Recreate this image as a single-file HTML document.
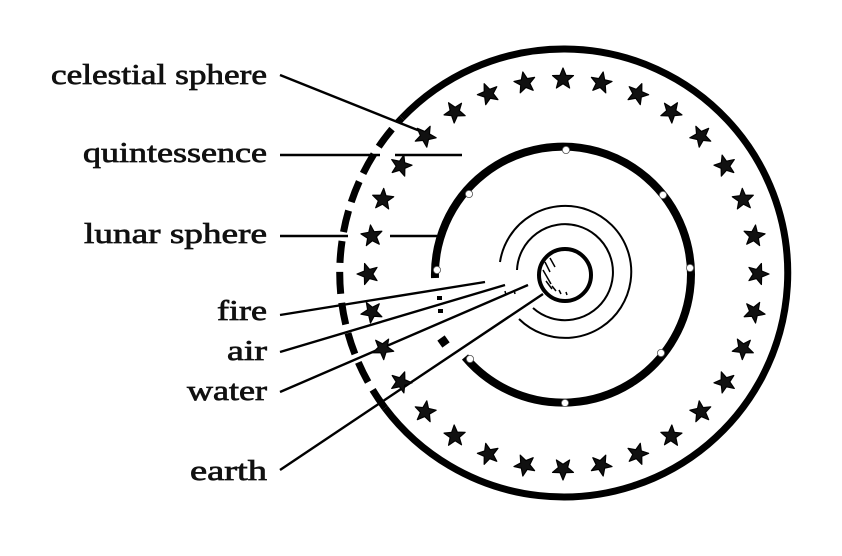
<!DOCTYPE html>
<html><head><meta charset="utf-8"><style>html,body{margin:0;padding:0;background:#fff}svg{display:block}</style></head>
<body>
<svg width="842" height="556" viewBox="0 0 842 556" xmlns="http://www.w3.org/2000/svg">
<defs>
<path id="s" d="M0,-11 L3,-3.6 L10.5,-3.4 L4.6,1.5 L6.6,9 L0,4.8 L-6.6,9 L-4.6,1.5 L-10.5,-3.4 L-3,-3.6 Z" fill="#111" stroke="#000" stroke-width="1.2" stroke-linejoin="round"/>
</defs>
<g font-family="'Liberation Serif', serif" font-size="28" fill="#111" stroke="#111" stroke-width="0.7" text-anchor="end">
<text x="267" y="84" textLength="216" lengthAdjust="spacingAndGlyphs">celestial sphere</text>
<text x="267" y="162" textLength="184" lengthAdjust="spacingAndGlyphs">quintessence</text>
<text x="267" y="243" textLength="183" lengthAdjust="spacingAndGlyphs">lunar sphere</text>
<text x="267" y="320" textLength="50" lengthAdjust="spacingAndGlyphs">fire</text>
<text x="267" y="360" textLength="40" lengthAdjust="spacingAndGlyphs">air</text>
<text x="267" y="400" textLength="80" lengthAdjust="spacingAndGlyphs">water</text>
<text x="267" y="480" textLength="77" lengthAdjust="spacingAndGlyphs">earth</text>
</g>
<g fill="none" stroke="#000">
<path d="M402,118 A224,224 0 1 1 385,408" stroke-width="7"/>
<path d="M385,408 A224,224 0 0 1 402,118" stroke-width="7" stroke-dasharray="22,9"/>
<path d="M435,278 A128,128 0 1 1 465,357" stroke-width="8"/>
<path d="M441,338 L446,345" stroke-width="9"/>
<path d="M437,298 L442,298 M438,311 L443,311" stroke-width="4"/>
<path d="M519,319 A66,66 0 1 0 500,262" stroke-width="2"/>
<path d="M533,308 A48,48 0 1 0 517,270" stroke-width="2"/>
<circle cx="565" cy="275" r="26" stroke-width="4" fill="#fff"/>
<path d="M545,262 l5,10 M543,270 l8,14 M546,281 l6,8 M552,286 l4,5 M559,290 l2,4 M566,292 l1,3 M550,258 l5,9" stroke-width="1.5"/>
<g stroke-width="2.4">
<path d="M280,75 L425,133"/>
<path d="M280,155 L380,155 M395,155 L462,155"/>
<path d="M280,236 L348,236 M390,236 L437,236"/>
<path d="M280,315 L485,282"/>
<path d="M280,352 L505,285"/>
<path d="M280,392 L528,285"/>
<path d="M280,470 L543,294"/>
<path d="M505,291 l1,4 M514,290 l1,4" stroke-width="1.5"/>
</g>
</g>
<g fill="#fff" stroke="#555" stroke-width="0.8">
<circle cx="566" cy="150" r="3.6"/><circle cx="663" cy="195" r="3.6"/><circle cx="690" cy="268" r="3.6"/><circle cx="661" cy="353" r="3.6"/><circle cx="565" cy="403" r="3.6"/><circle cx="470" cy="359" r="3.6"/><circle cx="437" cy="270" r="3.6"/><circle cx="469" cy="194" r="3.6"/>
</g>
<g>
<use href="#s" x="563" y="79"/>
<g transform="rotate(11.25 563 274)"><use href="#s" x="563" y="79"/></g>
<g transform="rotate(22.5 563 274)"><use href="#s" x="563" y="79"/></g>
<g transform="rotate(33.75 563 274)"><use href="#s" x="563" y="79"/></g>
<g transform="rotate(45 563 274)"><use href="#s" x="563" y="79"/></g>
<g transform="rotate(56.25 563 274)"><use href="#s" x="563" y="79"/></g>
<g transform="rotate(67.5 563 274)"><use href="#s" x="563" y="79"/></g>
<g transform="rotate(78.75 563 274)"><use href="#s" x="563" y="79"/></g>
<g transform="rotate(90 563 274)"><use href="#s" x="563" y="79"/></g>
<g transform="rotate(101.25 563 274)"><use href="#s" x="563" y="79"/></g>
<g transform="rotate(112.5 563 274)"><use href="#s" x="563" y="79"/></g>
<g transform="rotate(123.75 563 274)"><use href="#s" x="563" y="79"/></g>
<g transform="rotate(135 563 274)"><use href="#s" x="563" y="79"/></g>
<g transform="rotate(146.25 563 274)"><use href="#s" x="563" y="79"/></g>
<g transform="rotate(157.5 563 274)"><use href="#s" x="563" y="79"/></g>
<g transform="rotate(168.75 563 274)"><use href="#s" x="563" y="79"/></g>
<g transform="rotate(180 563 274)"><use href="#s" x="563" y="79"/></g>
<g transform="rotate(191.25 563 274)"><use href="#s" x="563" y="79"/></g>
<g transform="rotate(202.5 563 274)"><use href="#s" x="563" y="79"/></g>
<g transform="rotate(213.75 563 274)"><use href="#s" x="563" y="79"/></g>
<g transform="rotate(225 563 274)"><use href="#s" x="563" y="79"/></g>
<g transform="rotate(236.25 563 274)"><use href="#s" x="563" y="79"/></g>
<g transform="rotate(247.5 563 274)"><use href="#s" x="563" y="79"/></g>
<g transform="rotate(258.75 563 274)"><use href="#s" x="563" y="79"/></g>
<g transform="rotate(270 563 274)"><use href="#s" x="563" y="79"/></g>
<g transform="rotate(281.25 563 274)"><use href="#s" x="563" y="79"/></g>
<g transform="rotate(292.5 563 274)"><use href="#s" x="563" y="79"/></g>
<g transform="rotate(303.75 563 274)"><use href="#s" x="563" y="79"/></g>
<g transform="rotate(315 563 274)"><use href="#s" x="563" y="79"/></g>
<g transform="rotate(326.25 563 274)"><use href="#s" x="563" y="79"/></g>
<g transform="rotate(337.5 563 274)"><use href="#s" x="563" y="79"/></g>
<g transform="rotate(348.75 563 274)"><use href="#s" x="563" y="79"/></g>
</g>
</svg>
</body></html>
